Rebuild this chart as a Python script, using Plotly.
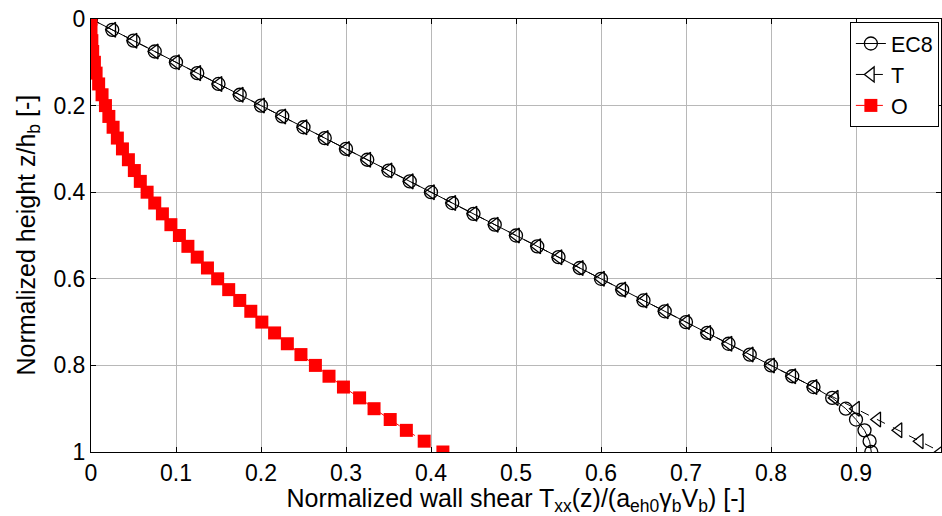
import plotly.graph_objects as go

# Normalized height levels z/h_b (top of wall = 0, base = 1)
z = [round(0.025 * i, 3) for i in range(41)]

# Normalized wall shear profiles
shear_ec8 = [0.000, 0.025, 0.050, 0.075, 0.100, 0.125, 0.150, 0.175, 0.200, 0.225,
             0.250, 0.275, 0.300, 0.325, 0.350, 0.375, 0.400, 0.425, 0.450, 0.475,
             0.500, 0.525, 0.550, 0.575, 0.600, 0.625, 0.650, 0.675, 0.700, 0.725,
             0.750, 0.775, 0.800, 0.825, 0.850, 0.872, 0.888, 0.900, 0.910, 0.916,
             0.918]
shear_t = [0.000, 0.025, 0.050, 0.075, 0.100, 0.125, 0.150, 0.175, 0.200, 0.225,
           0.250, 0.275, 0.300, 0.325, 0.350, 0.375, 0.400, 0.425, 0.450, 0.475,
           0.500, 0.525, 0.550, 0.575, 0.600, 0.625, 0.650, 0.675, 0.700, 0.725,
           0.750, 0.775, 0.800, 0.825, 0.850, 0.875, 0.900, 0.925, 0.950, 0.975,
           1.000]
shear_o = [0.000, 0.000, 0.001, 0.002, 0.004, 0.006, 0.009, 0.013, 0.017, 0.021,
           0.026, 0.031, 0.037, 0.044, 0.051, 0.058, 0.066, 0.075, 0.084, 0.094,
           0.104, 0.114, 0.125, 0.137, 0.149, 0.162, 0.175, 0.188, 0.201, 0.216,
           0.231, 0.247, 0.264, 0.280, 0.297, 0.316, 0.333, 0.352, 0.371, 0.392,
           0.414]

x_ticks = [0, 0.1, 0.2, 0.3, 0.4, 0.5, 0.6, 0.7, 0.8, 0.9, 1]
x_tick_text = ["0", "0.1", "0.2", "0.3", "0.4", "0.5", "0.6", "0.7", "0.8", "0.9", "1"]
y_ticks = [0, 0.2, 0.4, 0.6, 0.8, 1]
y_tick_text = ["0", "0.2", "0.4", "0.6", "0.8", "1"]

FONT = "Liberation Sans, Arial, sans-serif"

fig = go.Figure()
fig.add_trace(go.Scatter(
    x=shear_ec8, y=z, name="EC8", mode="lines+markers",
    line=dict(color="black", width=1),
    marker=dict(symbol="circle-open", size=13, color="black", line=dict(width=1.3)),
))
fig.add_trace(go.Scatter(
    x=shear_t, y=z, name="T", mode="lines+markers",
    line=dict(color="black", width=1, dash="dash"),
    marker=dict(symbol="triangle-left-open", size=13, color="black", line=dict(width=1.3)),
))
fig.add_trace(go.Scatter(
    x=shear_o, y=z, name="O", mode="lines+markers",
    line=dict(color="#ff0000", width=1, dash="dash"),
    marker=dict(symbol="square", size=13, color="#ff0000"),
))

axis_common = dict(
    showline=True, linecolor="black", linewidth=1, mirror="allticks",
    ticks="inside", ticklen=5, tickcolor="black", tickwidth=1,
    showgrid=True, gridcolor="#b8b8b8", gridwidth=1,
    zeroline=False, tickfont=dict(family=FONT, size=23, color="black"),
)

fig.update_xaxes(
    range=[0, 1], tickvals=x_ticks, ticktext=x_tick_text,
    title=dict(text="Normalized wall shear T<sub>xx</sub>(z)/(a<sub>eh0</sub>γ<sub>b</sub>V<sub>b</sub>) [-]",
               font=dict(family=FONT, size=25, color="black"), standoff=0),
    **axis_common,
)
fig.update_yaxes(range=[1, 0], tickvals=y_ticks, ticktext=y_tick_text, **axis_common)

# Vertical axis title placed as a rotated annotation left of the tick labels
fig.add_annotation(
    text="Normalized height z/h<sub>b</sub> [-]",
    xref="paper", yref="paper", x=0, y=0.5, xanchor="center", yanchor="middle",
    xshift=-64, textangle=-90, showarrow=False,
    font=dict(family=FONT, size=25, color="black"),
)

fig.update_layout(
    width=942, height=516,
    margin=dict(l=91, r=1, t=19, b=64),
    paper_bgcolor="white", plot_bgcolor="white",
    font=dict(family=FONT, size=23, color="black"),
    legend=dict(
        x=0.9975, y=0.993, xanchor="right", yanchor="top",
        bgcolor="white", bordercolor="black", borderwidth=1,
        font=dict(family=FONT, size=21.5, color="black"),
        itemwidth=30, tracegroupgap=0,
    ),
    showlegend=True,
)

fig.write_html("out.html")
